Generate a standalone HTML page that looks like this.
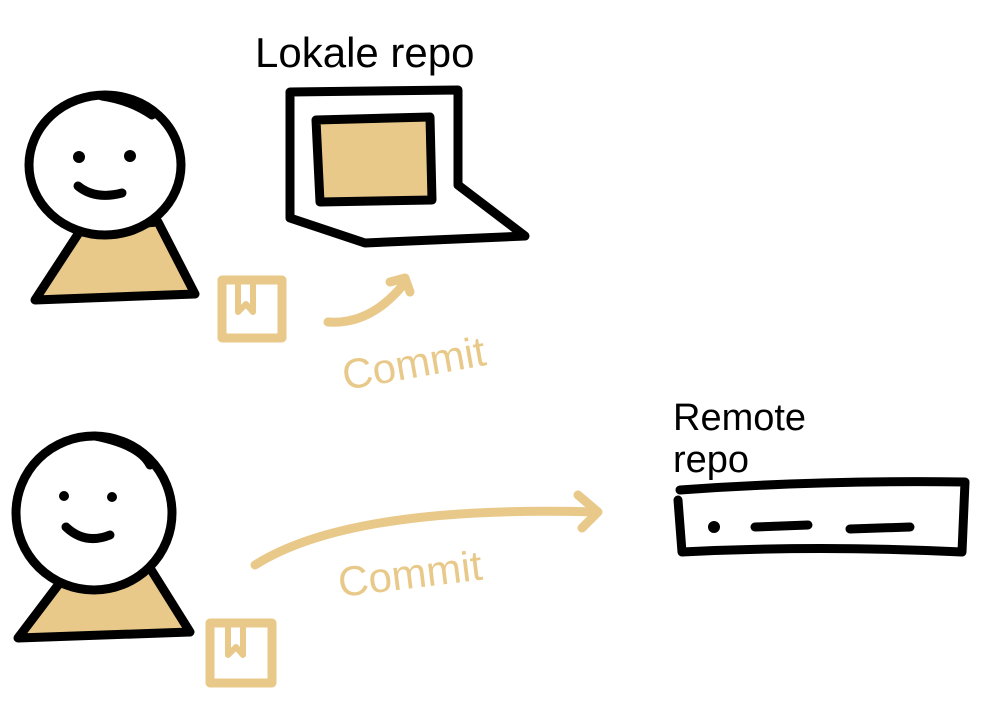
<!DOCTYPE html>
<html><head><style>
body{margin:0;background:#fff;width:1001px;height:703px;overflow:hidden}
svg{display:block}
text{font-family:"Liberation Sans",sans-serif}
</style></head><body>
<svg width="1001" height="703" viewBox="0 0 1001 703">
<g stroke="#000" stroke-width="9" stroke-linecap="round" stroke-linejoin="round" fill="none">
<!-- person 1 -->
<path d="M82 228 L158 222 L195 294 L35 300 Z" fill="#e8c98a"/>
<ellipse cx="105" cy="165" rx="76" ry="70" fill="#fff"/>
<path d="M102 96 Q130 100 152 115"/>
<path d="M78 186 Q95 200 122 193"/>
<!-- person 2 -->
<path d="M68 572 L150 568 L190 632 L18 638 Z" fill="#e8c98a"/>
<ellipse cx="94" cy="513" rx="78" ry="77" fill="#fff"/>
<path d="M95 436 Q140 445 150 465"/>
<path d="M66 527 Q85 545 110 535"/>
<!-- laptop -->
<path d="M290 218 L290 92 L458 90 L458 185 L525 236 L365 243 Z" fill="#fff"/>
<path d="M316 120 L430 117 L432 200 L320 202 Z" fill="#e8c98a"/>
<!-- server -->
<path d="M680 490 Q820 480 965 482 L962 552 Q820 545 682 552 L678 500"/>
<path d="M755 527 L808 525 M850 529 L910 527"/>
</g>
<g fill="#000">
<circle cx="79" cy="157" r="6"/><circle cx="130" cy="156" r="6"/>
<circle cx="64" cy="496" r="5"/><circle cx="112" cy="497" r="5"/>
<circle cx="714" cy="527" r="6"/>
</g>
<!-- tan drawings -->
<g stroke="#e8c98a" stroke-width="9" stroke-linecap="round" stroke-linejoin="round" fill="none">
<rect x="222" y="280" width="60" height="58"/>
<path d="M238 285 L238 312 L246 304 L253 312 L253 285" stroke-width="6"/>
<rect x="210" y="623" width="62" height="60"/>
<path d="M228 628 L228 655 L236 647 L243 655 L243 628" stroke-width="6"/>
<path d="M328 322 Q370 325 403 285"/>
<path d="M390 282 L405 278 L410 292"/>
<path d="M255 565 Q350 505 595 512"/>
<path d="M578 495 L598 512 L582 528"/>
</g>
<text x="345" y="390" font-size="42" fill="#e8c98a" transform="rotate(-10 345 390)">Commit</text>
<text x="340" y="597" font-size="42" fill="#e8c98a" transform="rotate(-7 340 597)">Commit</text>
<text x="255" y="67" font-size="42" fill="#000">Lokale repo</text>
<text x="673" y="430" font-size="38" fill="#000">Remote</text>
<text x="673" y="472" font-size="38" fill="#000">repo</text>
</svg>
</body></html>
